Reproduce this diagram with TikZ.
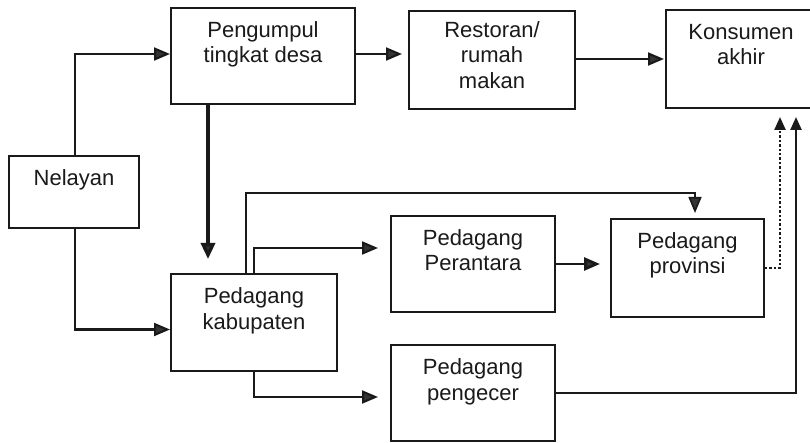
\documentclass[tikz,border=0pt]{standalone}
\usepackage{fontspec}
\setmainfont{Liberation Sans}
\usetikzlibrary{arrows.meta,calc}
\newcommand{\tlines}[1]{\begin{tabular}[t]{@{}c@{}}#1\end{tabular}}
\definecolor{ink}{HTML}{1A1A1A}
\definecolor{tip}{HTML}{333333}
\tikzset{
  box/.style={draw=ink, line width=2pt, minimum width=#1, inner sep=0pt, anchor=north west},
  txt/.style={anchor=base, yshift=-30.5pt, inner sep=0pt, font=\fontsize{22}{25.5}\selectfont, text=ink},
  conn/.style={draw=ink, line width=2.1pt},
  arr/.style={conn, -{Triangle[length=16pt,width=13pt,fill=tip]}},
  thickarr/.style={draw=ink, line width=3.4pt, -{Triangle[length=16pt,width=14pt,fill=tip]}},
  dotarr/.style={draw=ink, line width=2.4pt, dotted, -{Triangle[length=13pt,width=11pt,fill=ink]}},
}
\begin{document}
\begin{tikzpicture}[x=1pt,y=-1pt]
\useasboundingbox (0,0) rectangle (810,443);
\clip (0,0) rectangle (810,443);
\fill[white] (0,0) rectangle (810,443);
% boxes
\node[box=130pt, minimum height=72pt, label={[txt]north:\tlines{Nelayan}}] (nel) at (8,155) {};
\node[box=184pt, minimum height=96pt, label={[txt]north:\tlines{Pengumpul\\tingkat desa}}] (peng) at (170,7) {};
\node[box=166pt, minimum height=98pt, label={[txt,yshift=3pt]north:\tlines{Restoran/\\rumah\\makan}}] (rest) at (408,10) {};
\node[box=150pt, minimum height=98pt, label={[txt]north:\tlines{Konsumen\\akhir}}] (kons) at (665,9) {};
\node[box=166pt, minimum height=97pt, label={[txt]north:\tlines{Pedagang\\kabupaten}}] (kab) at (170,273) {};
\node[box=164pt, minimum height=96pt, label={[txt]north:\tlines{Pedagang\\Perantara}}] (per) at (390,215) {};
\node[box=153pt, minimum height=98pt, label={[txt]north:\tlines{Pedagang\\provinsi}}] (prov) at (610,218) {};
\node[box=164pt, minimum height=96pt, label={[txt]north:\tlines{Pedagang\\pengecer}}] (pgc) at (390,344) {};
% helper coordinates
\coordinate (nelA) at ($(nel.north)+(1,2)$);
\coordinate (nelB) at ($(nel.south)+(1,0)$);
\coordinate (kabN1) at ($(kab.north west)+(76,0)$);
\coordinate (kabN2) at ($(kab.north west)+(84,0)$);
\coordinate (kabS) at ($(kab.south west)+(84,0)$);
\coordinate (pengS) at ($(peng.south west)+(38,0)$);
\coordinate (provN) at ($(prov.north west)+(85,0)$);
\coordinate (consD) at ($(kons.south west)+(115,0)$);
\coordinate (consS) at ($(kons.south west)+(131,0)$);
% connectors
\draw[arr] (nelA) |- ($(peng.west)+(0,-2)$);
\draw[arr] (nelB) |- ($(kab.west)+(0,7)$);
\draw[arr, shorten >=6pt] ($(peng.east)+(0,-2)$) -- ($(peng.east -| rest.west)+(0,-2)$);
\draw[arr, shorten >=1pt] ($(rest.east)+(0,-1)$) -- ($(rest.east -| kons.west)+(0,-1)$);
\draw[thickarr, shorten >=14pt] (pengS) -- (pengS |- kab.north);
\draw[conn, line width=1.6pt, -{Triangle[length=16pt,width=13pt,fill=tip]}, shorten >=5pt] (kabN1) -- ++(0,-80) -| (provN);
\draw[arr, shorten >=12pt] (kabN2) -- ++(0,-25) -| ++(10,0) -- (per.west |- {$(kabN2)+(0,-25)$});
\draw[arr, line width=2.8pt, shorten >=10pt] (per.east) -- (per.east -| prov.west);
\draw[arr, shorten >=12pt] (kabS) |- (pgc.west |- {$(kabS)+(0,25)$});
\draw[dotarr, shorten >=8pt] (prov.east) -| (consD);
\draw[conn, line width=2.4pt, -{Triangle[length=13pt,width=11pt,fill=ink]}, shorten >=8pt] (pgc.east) -| (consS);
\end{tikzpicture}
\end{document}
